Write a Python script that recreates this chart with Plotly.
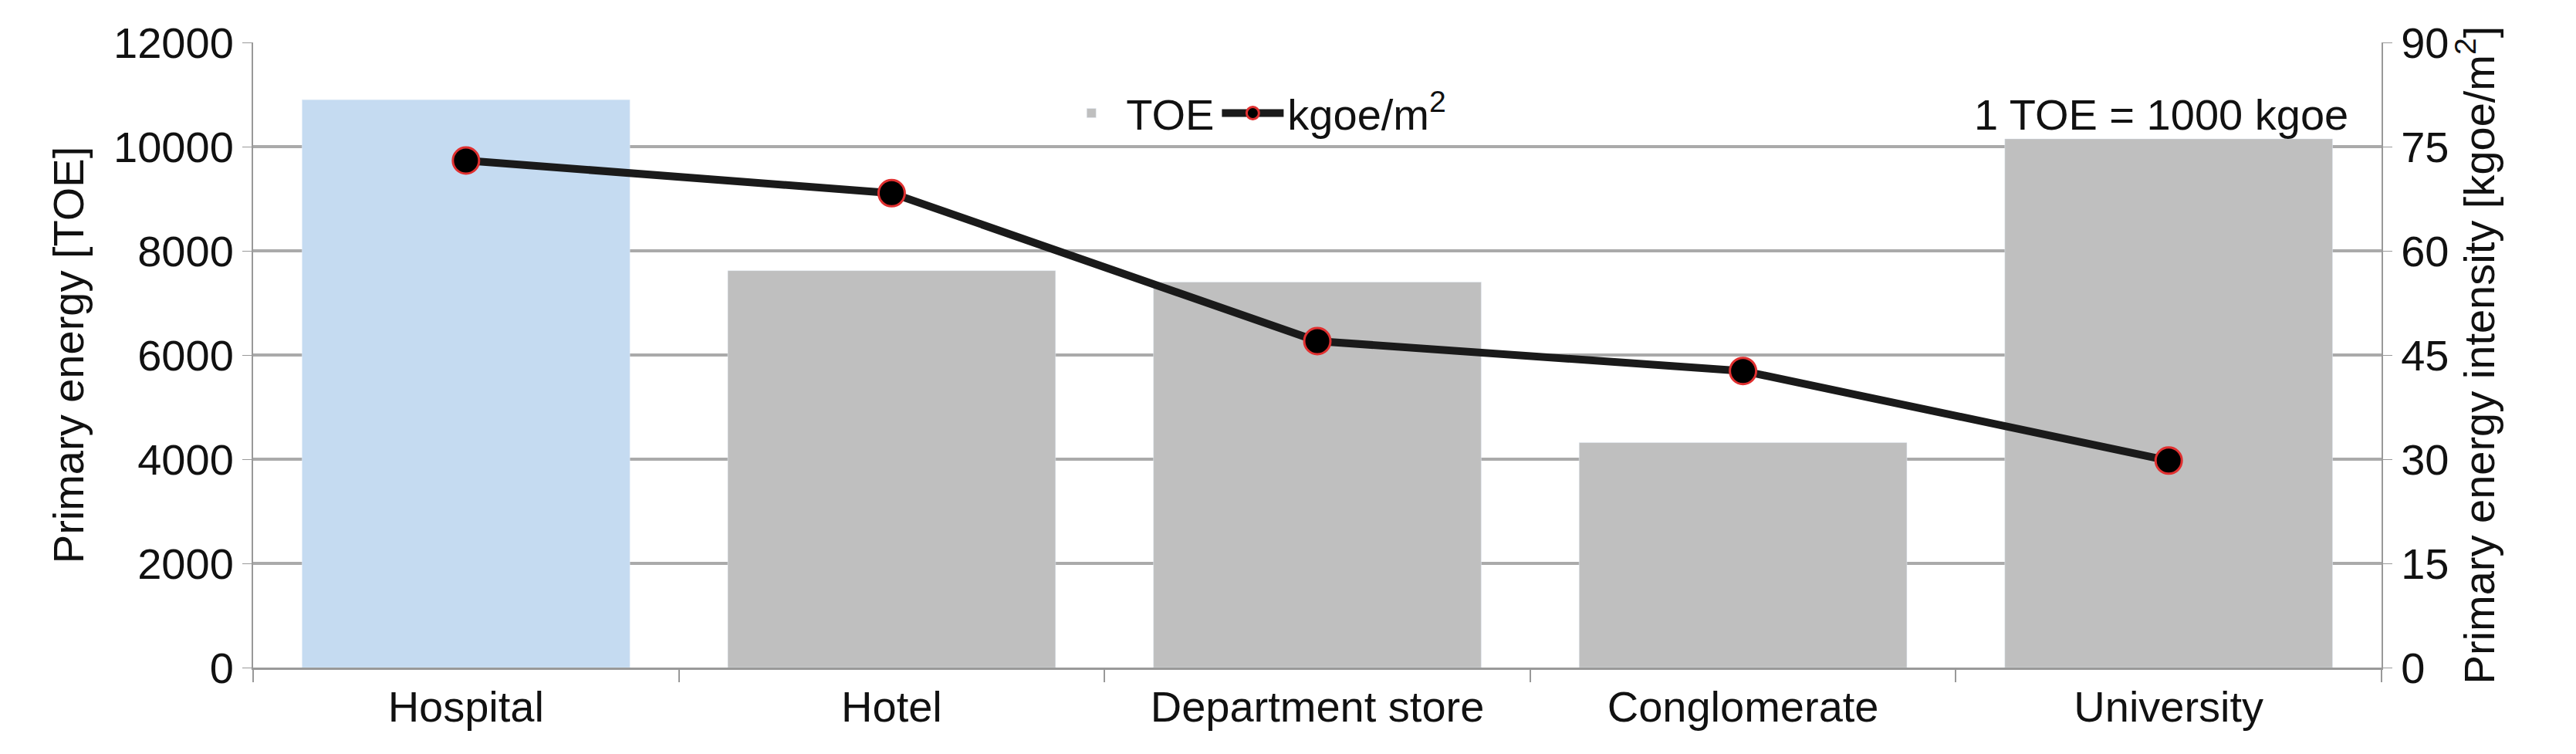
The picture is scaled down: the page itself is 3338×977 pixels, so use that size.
import plotly.graph_objects as go

categories = ["Hospital", "Hotel", "Department store", "Conglomerate", "University"]
toe = [10900, 7620, 7400, 4320, 10150]
intensity = [73.0, 68.3, 47.0, 42.7, 29.8]
bar_colors = ["#c5dbf1", "#bfbfbf", "#bfbfbf", "#bfbfbf", "#bfbfbf"]

F = dict(family="Liberation Sans, Arial", size=56, color="#111")
fig = go.Figure()
fig.add_trace(go.Bar(x=categories, y=toe, marker_color=bar_colors, width=0.77,
                     name="TOE", yaxis="y", showlegend=False))
fig.add_trace(go.Bar(x=categories, y=[None]*5, name="TOE", marker_color="#bfbfbf"))
fig.add_trace(go.Scatter(x=categories, y=intensity, yaxis="y2", mode="lines+markers",
                         name="kgoe/m<sup>2</sup>",
                         line=dict(color="#1a1a1a", width=10),
                         marker=dict(size=34, color="black", line=dict(color="#e03030", width=3))))
fig.update_layout(
    width=3338, height=977, paper_bgcolor="white", plot_bgcolor="white",
    margin=dict(l=320, r=260, t=47, b=120),
    font=F, bargap=0.23, showlegend=True, barmode="overlay",
    legend=dict(orientation="h", x=0.47, xanchor="center", y=0.94, yanchor="top",
                font=dict(family="Liberation Sans, Arial", size=56), bgcolor="rgba(0,0,0,0)",
                itemwidth=80),
    xaxis=dict(showline=True, linecolor="#999", linewidth=3, ticks="outside",
               tickson="boundaries", ticklen=16, tickcolor="#999", tickwidth=2, tickfont=F),
    yaxis=dict(range=[0, 12000], dtick=2000, tickformat="d", showgrid=True, gridcolor="#aaa", gridwidth=4,
               showline=True, linecolor="#999", linewidth=2, ticks="outside", ticklen=12,
               tickcolor="#999", tickfont=F, zeroline=False,
               title=dict(text="Primary energy [TOE]", font=F, standoff=20)),
    yaxis2=dict(range=[0, 90], dtick=15, overlaying="y", side="right", showgrid=False,
                showline=True, linecolor="#999", linewidth=2, ticks="outside", ticklen=12,
                tickcolor="#999", tickfont=F, zeroline=False,
                title=dict(text="Primary energy intensity [kgoe/m<sup>2</sup>]", font=F, standoff=20)),
    annotations=[dict(text="1 TOE = 1000 kgoe", xref="paper", yref="paper", x=0.985, y=0.885,
                      xanchor="right", yanchor="middle", showarrow=False, font=F)],
)
fig.write_html("out.html")
